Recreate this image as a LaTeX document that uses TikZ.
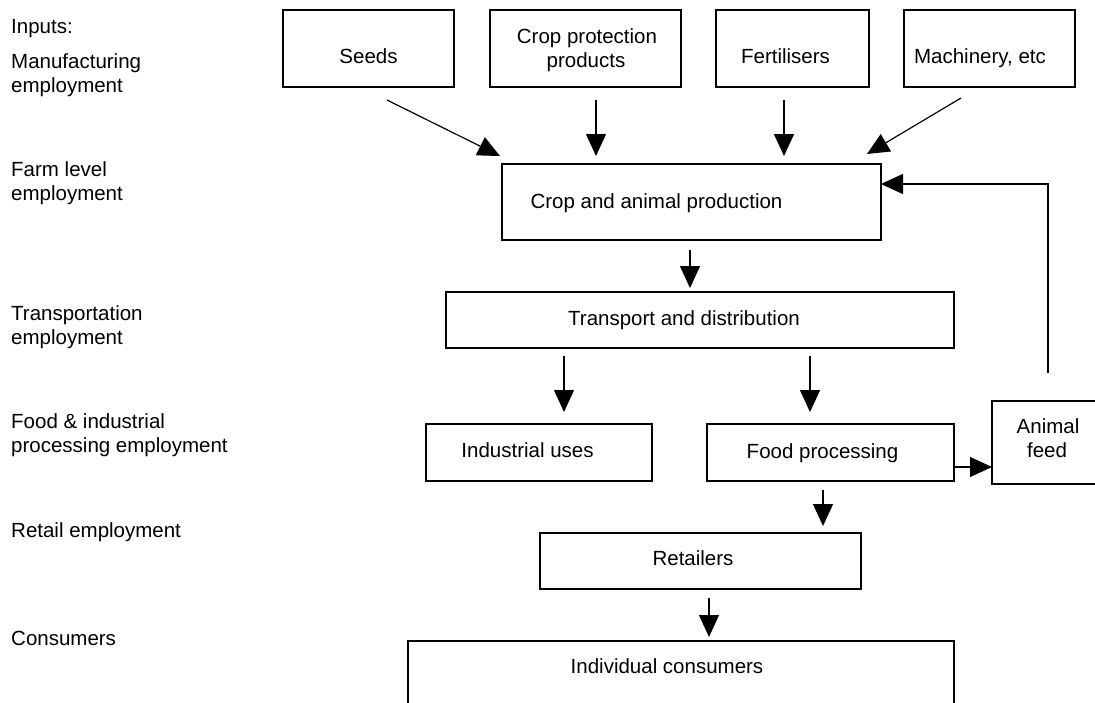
\documentclass[tikz,border=0pt]{standalone}
\usepackage{fontspec}
\setmainfont{Liberation Sans}
\usetikzlibrary{arrows.meta,calc}
\tikzset{
  boxnode/.style={draw=black, line width=1.2pt, rectangle, inner sep=0pt, outer sep=0pt},
  txt/.style={font=\fontsize{20.5}{24}\selectfont, inner sep=0pt, anchor=base},
  sidelbl/.style={font=\fontsize{20.5}{23.5}\selectfont, inner sep=0pt, anchor=base west, align=left},
  arr/.style={line width=1.2pt, -{Triangle[length=22pt,width=20pt]}}
}
\begin{document}
\begin{tikzpicture}[x=1pt,y=-1pt]
\useasboundingbox (0,0) rectangle (1095,702);
\fill[white] (0,0) rectangle (1095,702);

% side labels (multi-line nodes: base = last line's baseline)
\node[sidelbl] (l1) at (11,33) {Inputs:};
\node[sidelbl] (l2) at (11,92) {Manufacturing\\employment};
\node[sidelbl] (l3) at (11,200) {Farm level\\employment};
\node[sidelbl] (l4) at (11,344) {Transportation\\employment};
\node[sidelbl] (l5) at (11,452) {Food \& industrial\\processing employment};
\node[sidelbl] (l6) at (11,537) {Retail employment};
\node[sidelbl] (l7) at (11,645) {Consumers};

% boxes
\node[boxnode, minimum width=171pt, minimum height=77pt] (seeds) at (368.5,48.5) {};
\node[boxnode, minimum width=191pt, minimum height=77pt] (cpp) at (585.5,48.5) {};
\node[boxnode, minimum width=153pt, minimum height=77pt] (fert) at (792.5,48.5) {};
\node[boxnode, minimum width=171pt, minimum height=77pt] (mach) at (989.5,48.5) {};
\node[boxnode, minimum width=379pt, minimum height=76pt] (crop) at (691.5,202) {};
\node[boxnode, minimum width=508pt, minimum height=56pt] (trans) at (700,320) {};
\node[boxnode, minimum width=226pt, minimum height=57pt] (ind) at (539,452.5) {};
\node[boxnode, minimum width=247pt, minimum height=57pt] (food) at (830.5,452.5) {};
\node[boxnode, minimum width=112pt, minimum height=83pt] (feed) at (1048,442.5) {};
\node[boxnode, minimum width=321pt, minimum height=56pt] (ret) at (700.5,561) {};
\node[boxnode, minimum width=546pt, minimum height=118pt] (cons) at (681,700) {};

% box texts
\node[txt] (tseeds) at (368.5,63) {Seeds};
\node[txt] (tcpp1) at (587,43) {Crop protection};
\node[txt] (tcpp2) at (586,67) {products};
\node[txt] (tfert) at (785.5,63) {Fertilisers};
\node[txt] (tmach) at (980,63) {Machinery, etc};
\node[txt] (tcrop) at (656.5,208) {Crop and animal production};
\node[txt] (ttrans) at (684,325) {Transport and distribution};
\node[txt] (tind) at (527.5,457) {Industrial uses};
\node[txt] (tfood) at (822.5,458) {Food processing};
\node[txt] (tfeed1) at (1048,433) {Animal};
\node[txt] (tfeed2) at (1047,457) {feed};
\node[txt] (tret) at (693,565) {Retailers};
\node[txt] (tcons) at (667,673) {Individual consumers};

% free ends of connectors
\coordinate (s1) at (387,100);  \coordinate (e1) at (500,156);
\coordinate (s2) at (596,100);  \coordinate (e2) at (596,156);
\coordinate (s3) at (784,100);  \coordinate (e3) at (784,156);
\coordinate (s4) at (961,98);   \coordinate (e4) at (867,154);
\coordinate (s5) at (690,250);  \coordinate (e5) at (690,288);
\coordinate (s6) at (564,356);  \coordinate (e6) at (564,412);
\coordinate (s7) at (810,356);  \coordinate (e7) at (810,412);
\coordinate (s8) at (823,490);  \coordinate (e8) at (823,526);
\coordinate (s9) at (709,598);  \coordinate (e9) at (709,637);
\coordinate (fb) at (1048,373);

% connectors
\draw[arr] (s1) -- (e1);
\draw[arr] (s2) -- (e2);
\draw[arr] (s3) -- (e3);
\draw[arr] (s4) -- (e4);
\draw[arr] (s5) -- (e5);
\draw[arr] (s6) -- (e6);
\draw[arr] (s7) -- (e7);
\draw[arr] ($(food.east)+(0,14.5)$) -- ($(feed.west)+(0,24.5)$);
\draw[arr] (s8) -- (e8);
\draw[arr] (s9) -- (e9);
\draw[arr] (fb) |- ($(crop.east)+(0,-18)$);
\end{tikzpicture}
\end{document}
